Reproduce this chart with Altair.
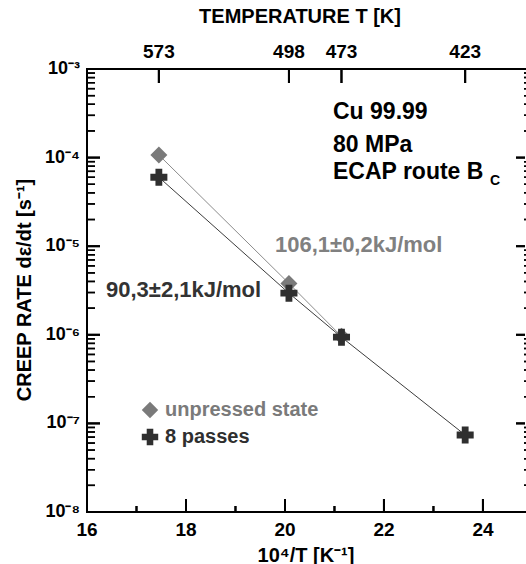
import altair as alt
import pandas as pd

# ---------------- data ----------------
series_names = ["unpressed state", "8 passes"]
inv_T_unpressed = [17.452, 20.080, 21.142]
rate_unpressed = [1.07e-4, 3.8e-6, 9.6e-7]
inv_T_passes = [17.452, 20.080, 21.142, 23.641]
rate_passes = [6.0e-5, 2.95e-6, 9.4e-7, 7.4e-8]

x_major_ticks = [16, 18, 20, 22, 24]
x_minor_ticks = [17, 19, 21, 23]
y_decades = [1e-8, 1e-7, 1e-6, 1e-5, 1e-4, 1e-3]
y_decade_labels = ["10⁻⁸", "10⁻⁷", "10⁻⁶", "10⁻⁵", "10⁻⁴", "10⁻³"]
y_minor_mantissas = [2, 3, 4, 5, 6, 7, 8, 9]
top_temperatures_K = [573, 498, 473, 423]

info_lines = ["Cu 99.99", "80 MPa", "ECAP route B", "C"]
energy_labels = ["106,1±0,2kJ/mol", "90,3±2,1kJ/mol"]
top_title = "TEMPERATURE T [K]"
x_title = "10⁴/T [K⁻¹]"
y_title = "CREEP RATE dε/dt [s⁻¹]"

# ---------------- layout ----------------
W, H = 439, 443
FONT = "Liberation Sans"
GRAY = "#7a7a7a"
DARK = "#2f2f2f"

df_unpressed = pd.DataFrame({"invT": inv_T_unpressed, "rate": rate_unpressed})
df_passes = pd.DataFrame({"invT": inv_T_passes, "rate": rate_passes})
y_minor = [m * d for d in y_decades[:-1] for m in y_minor_mantissas]

xscale = alt.Scale(domain=[16, 24.87], nice=False, zero=False)
yscale = alt.Scale(type="log", domain=[1e-8, 1e-3], nice=False)


def X(field):
    return alt.X(field, scale=xscale, axis=None)


def Y(field):
    return alt.Y(field, scale=yscale, axis=None)


def series_line(d, color):
    return alt.Chart(d).mark_line(strokeWidth=1, color=color).encode(x=X("invT:Q"), y=Y("rate:Q"))


def series_points(d, shape, color):
    return alt.Chart(d).mark_point(filled=True, opacity=1, size=290, shape=shape, color=color).encode(
        x=X("invT:Q"), y=Y("rate:Q"))


data_layers = [
    series_line(df_unpressed, "#8c8c8c"),
    series_line(df_passes, "#3c3c3c"),
    series_points(df_unpressed, "diamond", GRAY),
    series_points(df_passes, "cross", DARK),
]


# ---- inward ticks (each drawn as a rule and as a tick mark at the same place) ----
def vticks(d, field, y0, y1, width=2):
    rule = alt.Chart(d).mark_rule(color="black", strokeWidth=width, orient="vertical").encode(
        x=X(field), y=alt.value(y0), y2=alt.value(y1))
    tick = alt.Chart(d).mark_tick(orient="vertical", color="black", opacity=1, thickness=width,
                                  size=abs(y1 - y0)).encode(x=X(field), y=alt.value((y0 + y1) / 2))
    return [rule, tick]


def hticks(d, field, x0, x1, width=2):
    rule = alt.Chart(d).mark_rule(color="black", strokeWidth=width, orient="horizontal").encode(
        y=Y(field), x=alt.value(x0), x2=alt.value(x1))
    tick = alt.Chart(d).mark_tick(orient="horizontal", color="black", opacity=1, thickness=width,
                                  size=abs(x1 - x0)).encode(y=Y(field), x=alt.value((x0 + x1) / 2))
    return [rule, tick]


xmaj_df = pd.DataFrame({"xv": x_major_ticks})
xmin_df = pd.DataFrame({"xv": x_minor_ticks})
ymaj_df = pd.DataFrame({"yv": y_decades, "lab": y_decade_labels})
ymin_df = pd.DataFrame({"yv": y_minor})
temp_df = pd.DataFrame({"T": top_temperatures_K})
temp_pos = alt.Chart(temp_df).transform_calculate(invT="10000 / datum.T")

tick_layers = (
    vticks(xmaj_df, "xv:Q", H, H - 13)
    + vticks(xmin_df, "xv:Q", H, H - 6)
    + hticks(ymaj_df, "yv:Q", 0, 13)
    + hticks(ymin_df, "yv:Q", 0, 8, 1.5)
    + hticks(ymaj_df, "yv:Q", W - 1, W - 10)
    + hticks(ymin_df, "yv:Q", W, W - 2, 1.5)
    + [
        temp_pos.mark_rule(color="black", strokeWidth=2, orient="vertical").encode(
            x=X("invT:Q"), y=alt.value(0), y2=alt.value(14)),
        temp_pos.mark_tick(orient="vertical", color="black", opacity=1, thickness=2, size=14).encode(
            x=X("invT:Q"), y=alt.value(7)),
    ]
)

# ---- frame lines (left, bottom, top) ----
frame_df = pd.DataFrame({"t": [top_title]})
frame = [
    alt.Chart(frame_df).mark_rule(color="black", strokeWidth=2).encode(
        x=alt.value(0), x2=alt.value(W), y=alt.value(0), y2=alt.value(0)),
    alt.Chart(frame_df).mark_rule(color="black", strokeWidth=2).encode(
        x=alt.value(0), x2=alt.value(W), y=alt.value(H), y2=alt.value(H)),
    alt.Chart(frame_df).mark_rule(color="black", strokeWidth=2).encode(
        x=alt.value(0), x2=alt.value(0), y=alt.value(-1), y2=alt.value(H + 1)),
]

# ---- axis labels ----
axis_text = dict(font=FONT, fontWeight="bold", color="black", baseline="middle")
x_labels = alt.Chart(xmaj_df).mark_text(fontSize=19, align="center", **axis_text).encode(
    x=X("xv:Q"), y=alt.value(H + 18), text=alt.Text("xv:Q"))
y_labels = alt.Chart(ymaj_df).mark_text(fontSize=18, align="right", **axis_text).encode(
    y=Y("yv:Q"), x=alt.value(-7), text=alt.Text("lab:N"))
top_labels = temp_pos.mark_text(fontSize=19, align="center", **axis_text).encode(
    x=X("invT:Q"), y=alt.value(-17), text=alt.Text("T:N"))


def label(text, x, y, size, color="black", weight="bold", align="left", angle=0):
    return alt.Chart(pd.DataFrame({"t": [text]})).mark_text(
        align=align, baseline="middle", font=FONT, fontSize=size, fontWeight=weight,
        color=color, angle=angle
    ).encode(text="t:N", x=alt.value(x), y=alt.value(y))


def legend_marker(shape, color, x, y):
    return alt.Chart(pd.DataFrame({"s": [shape]})).mark_point(
        filled=True, opacity=1, size=270, shape=shape, color=color
    ).encode(x=alt.value(x), y=alt.value(y))


texts = [
    label(top_title, 213, -52, 20, align="center"),
    label(x_title, 219, 487, 20, align="center"),
    label(y_title, -62, 221, 20, align="center", angle=270),
    label(info_lines[0], 246, 43, 23),
    label(info_lines[1], 246, 76, 23),
    label(info_lines[2], 246, 103, 23),
    label(info_lines[3], 403, 112, 14),
    label(energy_labels[0], 188, 176, 22, color="#808080"),
    label(energy_labels[1], 19, 221, 22, color="#333333"),
    label(series_names[0], 78, 341, 20, color="#7a7a7a"),
    label(series_names[1], 78, 368, 20, color="#2f2f2f"),
]

legend_marks = [
    legend_marker("diamond", GRAY, 63, 341),
    legend_marker("cross", DARK, 63, 368),
]

chart = alt.layer(
    *data_layers, *tick_layers, *frame, x_labels, y_labels, top_labels, *legend_marks, *texts
).properties(
    width=W, height=H,
    padding={"left": 87, "top": 69, "right": 0, "bottom": 52},
    autosize=alt.AutoSizeParams(type="none"),
    background="white",
).configure_view(stroke=None)

chart.save("out.html", embed_options={"renderer": "svg", "actions": False})
